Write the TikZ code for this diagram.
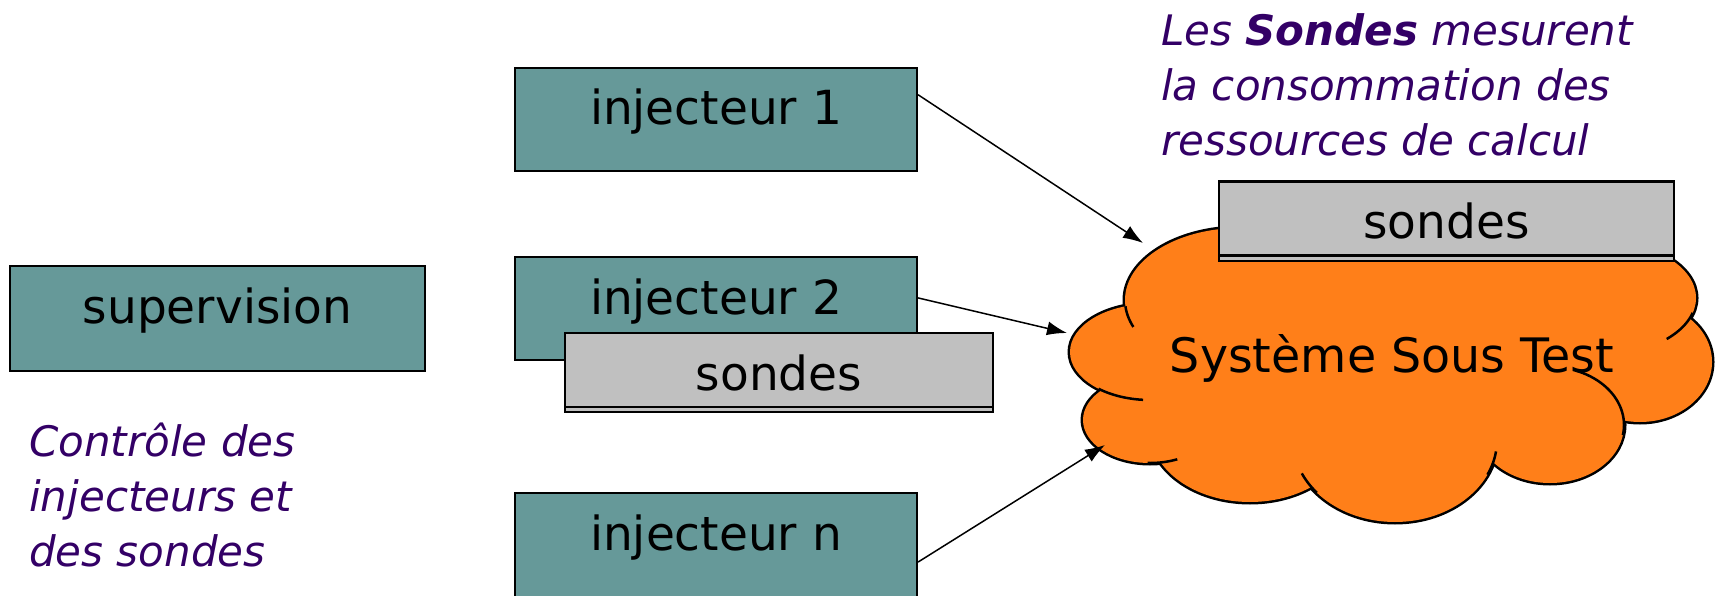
\documentclass[tikz,border=0pt]{standalone}
\usepackage{fontspec}
\setmainfont{DejaVu Sans}
\usetikzlibrary{arrows.meta}
\usetikzlibrary{positioning}

\definecolor{injteal}{RGB}{102,153,153}
\definecolor{sondegray}{RGB}{192,192,192}
\definecolor{cloudorange}{RGB}{255,127,25}
\definecolor{notepurple}{RGB}{51,0,102}

\tikzset{
  bloc/.style={draw=black, line width=2pt, fill=injteal, inner sep=0pt,
    minimum width=402pt, text height=57pt, text depth=46pt,
    font=\fontsize{47}{55}\selectfont},
  sonde/.style={draw=black, line width=2.5pt, fill=sondegray, inner sep=0pt,
    text height=57pt, text depth=17pt, font=\fontsize{47}{55}\selectfont},
  sondeshadow/.style={draw=black, line width=2pt, fill=sondegray},
  note/.style={text=notepurple, inner sep=0pt, align=left,
    font=\fontsize{42}{55}\selectfont\itshape},
  fleche/.style={line width=1.5pt, -{Latex[length=20pt,width=14pt]}},
}

\begin{document}
\begin{tikzpicture}[x=1pt, y=-1pt]
    \useasboundingbox (0,0) rectangle (1719,596);

    % the cloud: outline of each puff, then the fill on top of it
    \foreach \cx/\cy/\rx/\ry in {1240/300/115/72, 1150/352/80/48, 1150/420/67/43,
        1250/430/100/72, 1395/440/102/82, 1550/425/74/58, 1640/362/72/60, 1600/298/96/57}
        \draw[line width=5pt] (\cx,\cy) ellipse [x radius=\rx pt, y radius=\ry pt];
    \foreach \cx/\cy/\rx/\ry in {1240/300/115/72, 1150/352/80/48, 1150/420/67/43,
        1250/430/100/72, 1395/440/102/82, 1550/425/74/58, 1640/362/72/60, 1600/298/96/57,
        1400/360/200/110, 1450/270/150/40}
        \fill[cloudorange] (\cx,\cy) ellipse [x radius=\rx pt, y radius=\ry pt];
    \foreach \cx/\cy/\rx/\ry/\a/\b in {1240/300/115/72/158/175, 1150/352/80/48/95/130,
        1150/420/67/43/66/92, 1395/440/102/82/140/156, 1395/440/102/82/8/25,
        1550/425/74/58/-70/10, 1600/298/96/57/15/46}
        \draw[line width=2.5pt] plot[domain=\a:\b, smooth, variable=\t]
            ({\cx+\rx*cos(\t)}, {\cy+\ry*sin(\t)});
    \node[anchor=base, font=\fontsize{47.5}{55}\selectfont] (sst) at (1392,372) {Système Sous Test};

    \draw[sondeshadow] (1219,250) rectangle (1674,261);
    \node[sonde, minimum width=455pt] (sondes-sst) at (1446.5,218.5) {sondes};

    \node[bloc, minimum width=415pt, text depth=48pt] (supervision) at (217.5,318.5) {supervision};
    \node[bloc] (inj1) at (716,119.5) {injecteur 1};
    \node[bloc] (inj2) at (716,308.5) {injecteur 2};
    \node[bloc, text depth=60pt] (injn) at (716,551.5) {injecteur n};

    \draw[sondeshadow] (565,400) rectangle (993,412);
    \node[sonde, minimum width=428pt] (sondes-inj2) at (779,370) {sondes};

    \coordinate (tip1) at (1143,243);
    \coordinate (tip2) at (1067,333);
    \coordinate (tipn) at (1105,445);
    \draw[fleche] (inj1.7) -- (tip1);
    \draw[fleche] (inj2.3) -- (tip2);
    \draw[fleche] (injn.-3) -- (tipn);

    \node[note, anchor=north west] (note-sondes) at (1161,13)
        {Les \textbf{Sondes} mesurent\\la consommation des\\ressources de calcul};
    \node[note, anchor=north west] (note-supervision) at (29,423)
        {Contrôle des\\injecteurs et\\des sondes};
\end{tikzpicture}
\end{document}
